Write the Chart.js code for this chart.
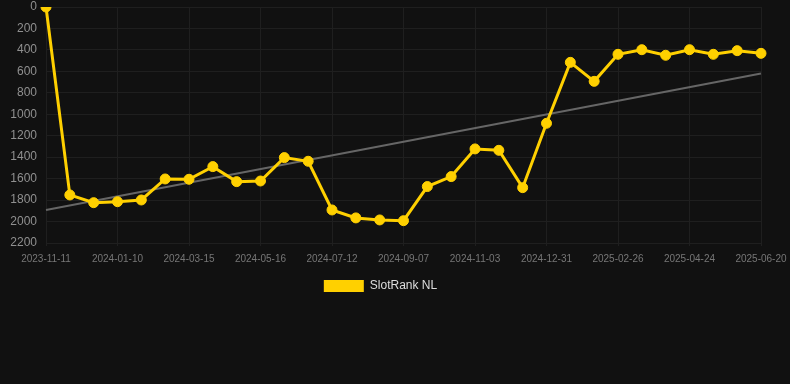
<!DOCTYPE html>
<html lang="en">
<head>
    <meta charset="UTF-8">
    <title>SlotRank NL</title>
    <style>
        html, body { margin: 0; padding: 0; background: #111111; }
        #wrap { width: 790px; height: 302px; position: relative; }
    </style>
    <script src="https://cdn.jsdelivr.net/npm/chart.js"></script>
</head>
<body>
    <div id="wrap"><canvas id="myChart"></canvas></div>
    <script>
        // dates of each rank snapshot (every third one is shown on the axis)
        var dates = [
            '2023-11-11', '2023-12-01', '2023-12-21', '2024-01-10', '2024-01-31', '2024-02-22',
            '2024-03-15', '2024-04-05', '2024-04-26', '2024-05-16', '2024-06-04', '2024-06-23',
            '2024-07-12', '2024-07-31', '2024-08-19', '2024-09-07', '2024-09-26', '2024-10-15',
            '2024-11-03', '2024-11-22', '2024-12-12', '2024-12-31', '2025-01-19', '2025-02-07',
            '2025-02-26', '2025-03-17', '2025-04-05', '2025-04-24', '2025-05-13', '2025-06-01',
            '2025-06-20'
        ];
        var ranks = [
            0, 1752, 1824, 1815, 1799, 1603,
            1606, 1488, 1628, 1622, 1404, 1438,
            1892, 1966, 1985, 1992, 1674, 1581,
            1323, 1336, 1684, 1084, 516, 693,
            441, 398, 450, 398, 441, 407,
            432
        ];
        // trend line: only start and end values
        var trendStart = 1892;
        var trendEnd = 620;
        var yTicks = [0, 200, 400, 600, 800, 1000, 1200, 1400, 1600, 1800, 2000, 2200];

        var trend = dates.map(function(d, i) {
            if (i === 0) return trendStart;
            if (i === dates.length - 1) return trendEnd;
            return null;
        });

        var ctx = document.getElementById('myChart').getContext('2d');
        var myChart = new Chart(ctx, {
            type: 'line',
            data: {
                labels: dates,
                datasets: [{
                    label: 'SlotRank NL',
                    data: ranks,
                    borderColor: '#ffd000',
                    backgroundColor: '#ffd000',
                    borderWidth: 3,
                    pointRadius: 5,
                    pointBorderWidth: 1,
                    pointHoverRadius: 6,
                    tension: 0
                }, {
                    label: 'trend',
                    data: trend,
                    borderColor: '#666666',
                    borderWidth: 2,
                    pointRadius: 0,
                    spanGaps: true
                }]
            },
            options: {
                responsive: true,
                maintainAspectRatio: false,
                animation: false,
                layout: { padding: { top: 0, right: 29, left: 0 } },
                scales: {
                    x: {
                        afterFit: function(scale) {
                            scale.paddingLeft = 0;
                            scale.paddingRight = 0;
                        },
                        grid: { color: '#1f1f1f', drawTicks: true, tickLength: 3 },
                        border: { color: '#1f1f1f' },
                        ticks: {
                            color: '#777777',
                            font: { family: 'Arial', size: 10 },
                            maxRotation: 0,
                            autoSkip: true,
                            maxTicksLimit: 11,
                            padding: 7
                        }
                    },
                    y: {
                        reverse: true,
                        min: 0,
                        max: 2200,
                        afterFit: function(scale) {
                            scale.width = 46;
                            scale.paddingTop = 7;
                            scale.paddingBottom = 0;
                        },
                        afterBuildTicks: function(scale) {
                            scale.ticks = yTicks.map(function(v) { return { value: v }; });
                        },
                        grid: { color: '#1f1f1f', drawTicks: false },
                        border: { color: '#1f1f1f' },
                        ticks: {
                            color: '#909090',
                            font: { family: 'Arial', size: 12 },
                            padding: 9,
                            callback: function(v) { return String(v); }
                        }
                    }
                },
                plugins: {
                    legend: {
                        display: true,
                        position: 'bottom',
                        labels: {
                            color: '#dddddd',
                            font: { family: 'Arial', size: 12 },
                            boxWidth: 40,
                            boxHeight: 12,
                            padding: 8,
                            filter: function(item) { return item.text !== 'trend'; },
                            generateLabels: function(chart) {
                                var items = Chart.defaults.plugins.legend.labels.generateLabels(chart);
                                items.forEach(function(it) { it.lineWidth = 0; });
                                return items;
                            }
                        }
                    },
                    tooltip: { enabled: false }
                }
            }
        });
    </script>
</body>
</html>
